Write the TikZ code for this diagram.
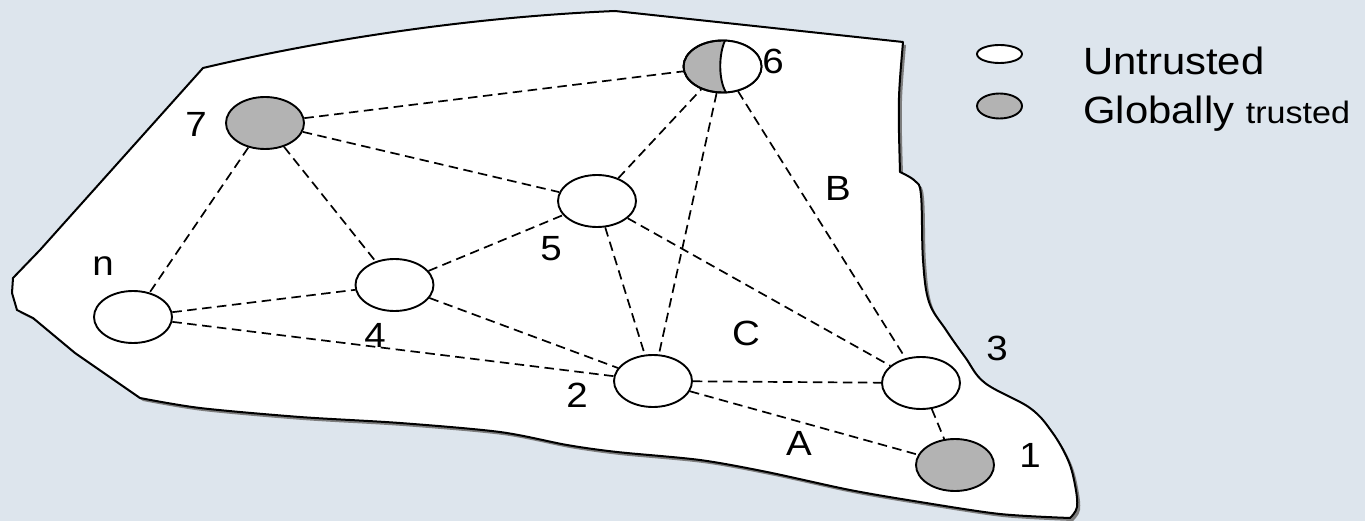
\documentclass[tikz,border=0pt]{standalone}
\usepackage{fontspec}
\setmainfont{Liberation Sans}[FakeStretch=1.1]
\usetikzlibrary{shapes.geometric}

\definecolor{bgblue}{RGB}{221,229,237}
\definecolor{nodegray}{RGB}{179,179,179}
\definecolor{shadowgray}{RGB}{125,125,125}

% outline of the network domain (coordinates in px, y pointing down)
\newcommand\domainoutline{%
  (203,68) .. controls (300,45) and (450,18) .. (615,11) -- (903,42)
  .. controls (898,100) .. (900,172)
  -- plot[smooth,tension=0.6] coordinates {(900,172) (915,181) (921,195) (923,260)
       (929,302) (946,330) (965,357) (985,383) (1030,408) (1052,432) (1068,460)
       (1075,485) (1077,507) (1070,518)}
  -- plot[smooth,tension=0.5] coordinates {(1070,518) (1000,514) (920,502) (850,490)
       (767,472) (700,460) (617,452) (567,445) (500,432) (400,423) (300,417)
       (200,408) (140,398)}
  -- (75,353) -- (33,318) -- (17,310) -- (12,293) -- (13,278) -- (40,250) -- cycle}

\tikzset{
  peer/.style={ellipse, draw, line width=1.9pt, minimum width=78pt,
    minimum height=52pt, inner sep=0pt, fill=white},
  trusted/.style={peer, fill=nodegray},
  link/.style={dash pattern=on 9.5pt off 5.5pt, line width=1.7pt},
  lbl/.style={font=\fontsize{35}{40}\selectfont, inner sep=0pt},
  legendtext/.style={font=\fontsize{38}{44}\selectfont, inner sep=0pt, anchor=base west}
}

\begin{document}
\begin{tikzpicture}[x=1pt,y=-1pt]
\useasboundingbox (0,0) rectangle (1365,521);
\fill[bgblue] (0,0) rectangle (1365,521);

% domain with its drop shadow
\begin{scope}[shift={(3,3)}]
  \fill[shadowgray] \domainoutline;
\end{scope}
\filldraw[fill=white, draw=black, line width=2pt, line join=round] \domainoutline;

% peers
\node[trusted] (n7) at (265,123) {};
\node[trusted] (n6) at (722.5,66.5) {};
\node[peer] (n5) at (597,201) {};
\node[peer] (n4) at (394.5,285) {};
\node[peer] (nn) at (133,317) {};
\node[peer] (n2) at (653,381) {};
\node[peer] (n3) at (921,383) {};
\node[trusted] (n1) at (955,465) {};

% peer 6 is only partly trusted: white right part
\begin{scope}
  \clip (n6.center) ellipse [x radius=39, y radius=26];
  \fill[white] (725,38) .. controls (718,55) and (718,80) .. (726,95) -- (770,95) -- (770,38) -- cycle;
\end{scope}
\draw[line width=1.9pt] (n6.center) ellipse [x radius=39, y radius=26];
\draw[line width=1.9pt] (725,40.5) .. controls (718.5,55) and (718.5,80) .. (726,92.5);

% trust links
\draw[link] (n7) -- (n6);
\draw[link] (n7) -- (n5);
\draw[link] (n7) -- (n4);
\draw[link] (n7) -- (nn);
\draw[link] (nn) -- (n4);
\draw[link] (nn) -- (n2);
\draw[link] (n4) -- (n5);
\draw[link] (n4) -- (n2);
\draw[link] (n5) -- (n6);
\draw[link] (n5) -- (n2);
\draw[link] (n5) -- (n3);
\draw[link] (n6) -- (n2);
\draw[link] (n6) -- (n3);
\draw[link] (n2) -- (n3);
\draw[link] (n2) -- (n1);
\draw[link] (n3) -- (n1);

% labels
\node[lbl] (l7) at (196,124) {7};
\node[lbl] (l6) at (773,61) {6};
\node[lbl] (ln) at (103,266) {n};
\node[lbl] (l4) at (375,335) {4};
\node[lbl] (l5) at (551,249) {5};
\node[lbl] (l2) at (577,395) {2};
\node[lbl] (l3) at (997,348) {3};
\node[lbl] (l1) at (1030,455) {1};
\node[lbl] (lA) at (799,443) {A};
\node[lbl] (lB) at (838,188) {B};
\node[lbl] (lC) at (746,333) {C};

% legend
\node[ellipse, draw, line width=1.9pt, fill=white, minimum width=45pt,
  minimum height=18pt, inner sep=0pt] (keyu) at (999.5,54) {};
\node[ellipse, draw, line width=1.9pt, fill=nodegray, minimum width=45pt,
  minimum height=25pt, inner sep=0pt] (keyt) at (999.5,106) {};
\node[legendtext] (txu) at (1083,75) {Untrusted};
\node[legendtext] (txt) at (1083,124) {Globally {\fontsize{31}{36}\selectfont trusted}};
\end{tikzpicture}
\end{document}
